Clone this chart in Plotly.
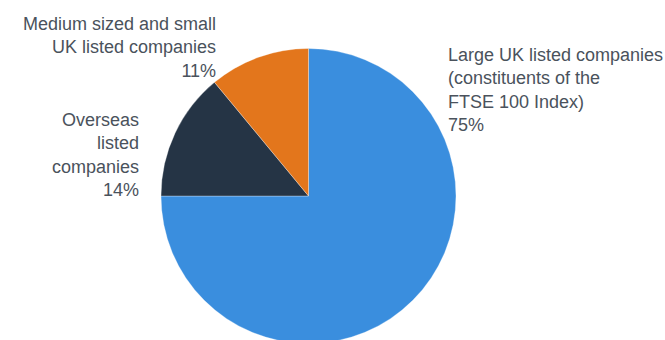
import plotly.graph_objects as go

# Share of companies by listing category
categories = [
    "Large UK listed companies (constituents of the FTSE 100 Index)",
    "Overseas listed companies",
    "Medium sized and small UK listed companies",
]
shares = [75, 14, 11]
label_lines = [
    ["Large UK listed companies", "(constituents of the", "FTSE 100 Index)"],
    ["Overseas", "listed", "companies"],
    ["Medium sized and small", "UK listed companies"],
]
colors = ["#3A8EDE", "#253445", "#E3761C"]

W, H = 665, 344
cx, cy, r = 308.5, 196.0, 147.5  # pie centre and radius in pixels

fig = go.Figure(
    go.Pie(
        labels=categories,
        values=shares,
        sort=False,
        direction="clockwise",
        rotation=0,
        marker=dict(colors=colors, line=dict(color="rgba(255,255,255,0.5)", width=0.6)),
        textinfo="none",
        hoverinfo="label+percent",
        showlegend=False,
        domain=dict(
            x=[(cx - r) / W, (cx + r) / W],
            y=[(H - (cy + r)) / H, (H - (cy - r)) / H],
        ),
    )
)

text_font = dict(family="Liberation Sans, Arial, sans-serif", size=18, color="#4a525c")

# label anchors: (x px, y px of block middle, horizontal anchor)
anchors = [
    (448, 89.5, "left"),
    (139, 155, "right"),
    (216, 47.5, "right"),
]
for lines, share, (ax, ay, side) in zip(label_lines, shares, anchors):
    fig.add_annotation(
        text="<br>".join(lines + [f"{share}%"]),
        x=ax / W,
        y=(H - ay) / H,
        xref="paper",
        yref="paper",
        xanchor=side,
        yanchor="middle",
        align=side,
        showarrow=False,
        borderpad=0,
        borderwidth=0,
        font=text_font,
    )

fig.update_layout(
    width=W,
    height=H,
    margin=dict(l=0, r=0, t=0, b=0),
    paper_bgcolor="white",
    plot_bgcolor="white",
)

fig.write_html(
    "out.html",
    post_script="document.documentElement.style.overflow='hidden';document.body.style.overflow='hidden';document.body.style.margin='0';",
)
